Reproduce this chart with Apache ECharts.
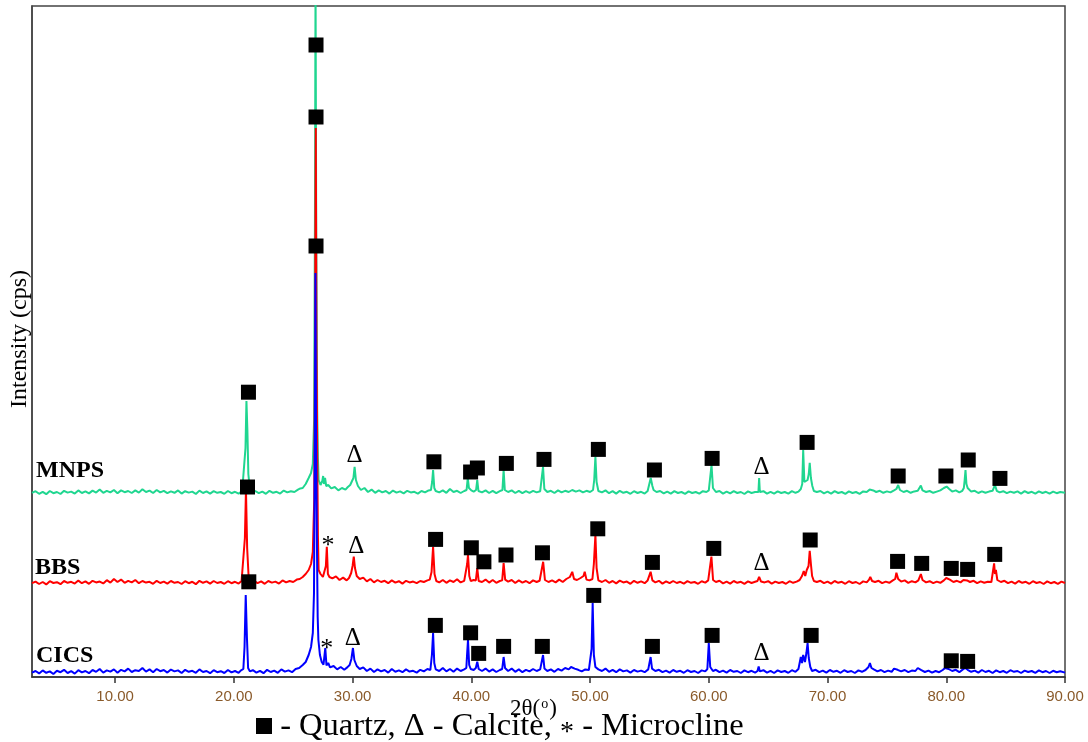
<!DOCTYPE html>
<html>
<head>
<meta charset="utf-8">
<script src="https://cdn.jsdelivr.net/npm/echarts@6/dist/echarts.min.js"></script>
<style>html,body{margin:0;padding:0;background:#fff;}#c{width:1088px;height:742px;}</style>
</head>
<body>
<div id="c"></div>
<script>
// 2θ tick labels
const thetaTicks = [10, 20, 30, 40, 50, 60, 70, 80, 90];
const seriesNames = ['MNPS', 'BBS', 'CICS'];
const seriesOffsets = [895, 445, 0];   // vertical stacking offset (cps)

// raw intensities [2θ, cps]
const cics = [[3,22],[3.3,30],[3.6,18],[3.9,33],[4.2,21],[4.5,28],[4.8,15],[5.1,31],[5.4,24],[5.7,36],[6.0,20],[6.3,29],[6.6,17],[6.9,34],[7.2,23],[7.5,30],[7.8,19],[8.1,35],[8.4,26],[8.7,40],[9.0,22],[9.3,33],[9.6,27],[9.9,38],[10.2,21],[10.5,36],[10.8,28],[11.1,42],[11.4,25],[11.7,34],[12.0,30],[12.3,45],[12.6,27],[12.9,38],[13.2,24],[13.5,40],[13.8,29],[14.1,35],[14.4,22],[14.7,37],[15.0,28],[15.3,33],[15.6,20],[15.9,36],[16.2,26],[16.5,31],[16.8,21],[17.1,38],[17.4,25],[17.7,30],[18.0,19],[18.3,34],[18.6,24],[18.9,29],[19.2,20],[19.5,35],[19.8,23],[20.1,30],[20.4,21],[20.6,33],
[20.8,40],[20.9,150],[21.0,410],[21.1,200],[21.2,45],[21.35,28],
[21.6,34],[21.9,22],[22.2,31],[22.5,19],[22.8,36],[23.1,25],[23.4,32],[23.7,21],[24.0,38],[24.3,27],[24.6,33],[24.9,24],[25.2,40],[25.5,45],
[25.8,60],[26.05,75],[26.3,110],[26.5,150],[26.65,220],[26.75,420],[26.82,1200],[26.87,2020],[26.93,1100],[27.0,645],[27.06,300],[27.12,185],[27.25,110],[27.4,75],[27.55,62],[27.7,145],[27.8,58],[27.95,70],[28.1,48],[28.4,55],[28.7,38],[29.0,50],[29.3,36],[29.55,48],[29.75,60],[29.9,90],[30.03,145],[30.15,85],[30.35,55],[30.6,40],[30.9,48],[31.2,30],[31.5,42],[31.8,25],[32.1,38],[32.4,28],[32.7,35],[33.0,22],[33.3,40],[33.6,26],[33.9,33],[34.2,24],[34.5,38],[34.8,27],[35.1,31],[35.4,22],[35.7,36],[36.0,28],[36.3,40],[36.55,35],[36.68,110],[36.78,220],[36.88,70],[37.0,38],[37.3,30],[37.6,45],[37.9,28],[38.2,40],[38.5,26],[38.8,42],[39.1,30],[39.4,38],[39.58,45],[39.65,120],[39.72,185],[39.82,60],[39.95,40],[40.2,35],[40.38,45],[40.5,77],[40.62,40],[40.9,30],[41.2,42],[41.5,27],[41.8,38],[42.1,25],[42.4,35],[42.6,40],[42.72,100],[42.84,45],[43.1,30],[43.4,42],[43.7,26],[44.0,38],[44.3,24],[44.6,36],[44.9,28],[45.2,40],[45.5,30],[45.8,38],[45.92,45],[46.04,110],[46.16,42],[46.4,30],[46.7,38],[47.0,26],[47.3,40],[47.6,32],[47.9,45],[48.2,38],[48.4,50],[48.55,60],[48.7,42],[49.0,36],[49.3,28],[49.6,38],[49.9,35],[50.05,45],[50.13,140],[50.22,370],[50.32,110],[50.45,50],[50.7,38],[51.0,30],[51.3,42],[51.6,26],[51.9,36],[52.2,24],[52.5,38],[52.8,28],[53.1,33],[53.4,22],[53.7,35],[54.0,27],[54.3,32],[54.6,24],[54.9,38],[55.0,45],[55.1,100],[55.22,42],[55.5,30],[55.8,36],[56.1,24],[56.4,32],[56.7,22],[57.0,35],[57.3,26],[57.6,31],[57.9,21],[58.2,34],[58.5,25],[58.8,30],[59.1,20],[59.4,33],[59.7,28],[59.88,40],[60.0,170],[60.12,50],[60.35,30],[60.6,36],[60.9,24],[61.2,32],[61.5,22],[61.8,35],[62.1,26],[62.4,30],[62.7,20],[63.0,33],[63.3,24],[63.6,31],[63.9,22],[64.1,30],[64.2,52],[64.3,28],[64.6,34],[64.9,22],[65.2,31],[65.5,20],[65.8,33],[66.1,25],[66.4,30],[66.7,21],[67.0,34],[67.3,26],[67.55,40],[67.75,100],[67.85,70],[67.95,110],[68.1,75],[68.22,120],[68.32,170],[68.42,95],[68.55,50],[68.7,30],[69.0,36],[69.3,24],[69.6,32],[69.9,22],[70.2,35],[70.5,26],[70.8,31],[71.1,21],[71.4,34],[71.7,25],[72.0,30],[72.3,20],[72.6,33],[72.9,26],[73.2,35],[73.45,50],[73.57,70],[73.7,45],[73.9,38],[74.2,28],[74.5,35],[74.8,24],[75.1,32],[75.4,26],[75.6,42],[75.75,50],[75.9,36],[76.2,28],[76.5,35],[76.8,24],[77.1,32],[77.4,30],[77.6,45],[77.75,50],[77.9,34],[78.2,25],[78.5,32],[78.8,22],[79.1,30],[79.4,24],[79.7,35],[79.9,45],[80.05,50],[80.2,40],[80.5,30],[80.8,36],[81.1,24],[81.4,38],[81.6,45],[81.8,36],[82.1,26],[82.4,32],[82.7,22],[83.0,35],[83.3,25],[83.6,31],[83.9,20],[84.2,33],[84.5,24],[84.8,30],[85.1,21],[85.4,34],[85.7,26],[86.0,30],[86.3,20],[86.6,32],[86.9,25],[87.2,30],[87.5,21],[87.8,33],[88.1,24],[88.4,30],[88.7,20],[89.0,31],[89.3,24],[89.6,29],[90,22]];

const bbs = [[3,24],[3.3,32],[3.6,20],[3.9,30],[4.2,18],[4.5,34],[4.8,25],[5.1,29],[5.4,19],[5.7,35],[6.0,26],[6.3,31],[6.6,22],[6.9,37],[7.2,24],[7.5,33],[7.8,21],[8.1,36],[8.4,28],[8.7,32],[9.0,23],[9.3,39],[9.6,27],[9.9,45],[10.2,30],[10.5,42],[10.8,26],[11.1,36],[11.4,28],[11.7,40],[12.0,24],[12.3,35],[12.6,27],[12.9,31],[13.2,21],[13.5,36],[13.8,25],[14.1,32],[14.4,22],[14.7,35],[15.0,26],[15.3,30],[15.6,20],[15.9,34],[16.2,24],[16.5,31],[16.8,19],[17.1,36],[17.4,26],[17.7,33],[18.0,22],[18.3,35],[18.6,25],[18.9,30],[19.2,21],[19.5,34],[19.8,24],[20.1,31],[20.4,22],[20.65,35],
[20.8,45],[20.93,250],[21.02,490],[21.12,200],[21.25,50],[21.4,30],
[21.7,36],[22.0,24],[22.3,33],[22.6,21],[22.9,35],[23.2,27],[23.5,32],[23.8,22],[24.1,38],[24.4,28],[24.7,35],[25.0,30],[25.3,42],[25.55,45],
[25.8,55],[26.05,70],[26.3,90],[26.5,120],[26.65,180],[26.77,440],[26.84,1300],[26.9,2300],[26.96,1200],[27.02,680],[27.08,260],[27.14,90],[27.3,70],[27.5,55],[27.65,65],[27.75,110],[27.83,206],[27.92,70],[28.05,55],[28.3,48],[28.6,58],[28.9,40],[29.2,52],[29.5,38],[29.7,50],[29.88,75],[30.0,110],[30.1,157],[30.2,100],[30.35,60],[30.6,45],[30.9,52],[31.2,33],[31.5,45],[31.8,28],[32.1,40],[32.4,30],[32.7,36],[33.0,24],[33.3,38],[33.6,27],[33.9,34],[34.2,22],[34.5,36],[34.8,28],[35.1,32],[35.4,24],[35.7,35],[36.0,30],[36.3,38],[36.5,42],[36.65,80],[36.78,206],[36.9,70],[37.05,35],[37.3,28],[37.6,40],[37.9,26],[38.2,38],[38.5,30],[38.8,44],[39.1,28],[39.4,36],[39.55,40],[39.65,120],[39.72,165],[39.83,60],[39.95,35],[40.2,40],[40.38,38],[40.5,100],[40.62,35],[40.9,30],[41.2,42],[41.5,27],[41.8,40],[42.1,26],[42.4,35],[42.6,38],[42.72,125],[42.85,42],[43.1,32],[43.4,40],[43.7,25],[44.0,38],[44.3,27],[44.6,35],[44.9,24],[45.2,38],[45.5,30],[45.75,36],[45.9,40],[46.05,131],[46.2,40],[46.5,30],[46.8,38],[47.1,28],[47.4,42],[47.7,30],[48.0,45],[48.3,55],[48.5,81],[48.65,45],[48.9,40],[49.2,50],[49.45,60],[49.55,81],[49.7,42],[49.95,38],[50.2,45],[50.32,120],[50.45,265],[50.55,100],[50.7,38],[51.0,30],[51.3,40],[51.6,26],[51.9,35],[52.2,23],[52.5,37],[52.8,28],[53.1,32],[53.4,21],[53.7,36],[54.0,26],[54.3,33],[54.6,24],[54.85,38],[54.98,40],[55.1,81],[55.25,38],[55.5,28],[55.8,36],[56.1,22],[56.4,33],[56.7,24],[57.0,35],[57.3,25],[57.6,31],[57.9,22],[58.2,34],[58.5,26],[58.8,30],[59.1,21],[59.4,34],[59.7,27],[59.95,38],[60.08,45],[60.22,157],[60.36,40],[60.6,30],[60.9,36],[61.2,23],[61.5,32],[61.8,22],[62.1,35],[62.4,26],[62.7,31],[63.0,21],[63.3,33],[63.6,25],[63.9,31],[64.1,35],[64.24,56],[64.4,32],[64.7,28],[65.0,34],[65.3,22],[65.6,32],[65.9,25],[66.2,30],[66.5,21],[66.8,34],[67.1,26],[67.4,32],[67.65,40],[67.85,60],[68.0,85],[68.12,60],[68.25,90],[68.4,110],[68.5,186],[68.6,120],[68.7,60],[68.85,35],[69.1,30],[69.4,36],[69.7,24],[70.0,32],[70.3,22],[70.6,35],[70.9,26],[71.2,31],[71.5,21],[71.8,34],[72.1,25],[72.4,30],[72.7,20],[73.0,33],[73.3,28],[73.5,42],[73.6,56],[73.75,35],[74.0,30],[74.3,36],[74.6,24],[74.9,32],[75.2,26],[75.5,38],[75.7,45],[75.8,76],[75.95,45],[76.2,32],[76.5,38],[76.8,26],[77.1,34],[77.4,28],[77.65,38],[77.86,70],[78.0,40],[78.3,28],[78.6,34],[78.9,24],[79.2,32],[79.5,26],[79.8,38],[80.0,50],[80.1,56],[80.3,42],[80.6,30],[80.9,36],[81.2,28],[81.45,40],[81.6,48],[81.75,38],[82.0,30],[82.3,36],[82.6,24],[82.9,33],[83.2,26],[83.5,31],[83.8,30],[83.95,40],[84.03,123],[84.1,70],[84.18,90],[84.3,40],[84.6,30],[84.9,36],[85.2,24],[85.5,32],[85.8,22],[86.1,35],[86.4,26],[86.7,31],[87.0,21],[87.3,34],[87.6,25],[87.9,30],[88.2,20],[88.5,33],[88.8,24],[89.1,30],[89.4,21],[89.7,32],[90,25]];

const mnps = [[3,26],[3.3,34],[3.6,21],[3.9,31],[4.2,19],[4.5,35],[4.8,24],[5.1,30],[5.4,20],[5.7,36],[6.0,27],[6.3,32],[6.6,22],[6.9,38],[7.2,25],[7.5,33],[7.8,23],[8.1,37],[8.4,27],[8.7,42],[9.0,26],[9.3,36],[9.6,28],[9.9,40],[10.2,24],[10.5,38],[10.8,29],[11.1,35],[11.4,25],[11.7,38],[12.0,27],[12.3,44],[12.6,30],[12.9,37],[13.2,25],[13.5,40],[13.8,28],[14.1,36],[14.4,24],[14.7,33],[15.0,26],[15.3,38],[15.6,22],[15.9,34],[16.2,27],[16.5,32],[16.8,20],[17.1,37],[17.4,25],[17.7,33],[18.0,22],[18.3,34],[18.6,26],[18.9,30],[19.2,21],[19.5,35],[19.8,24],[20.1,31],[20.4,22],[20.7,34],
[20.85,40],[20.98,250],[21.06,485],[21.14,340],[21.22,120],[21.35,45],[21.5,30],
[21.8,35],[22.1,24],[22.4,32],[22.7,21],[23.0,36],[23.3,26],[23.6,31],[23.9,22],[24.2,37],[24.5,28],[24.8,34],[25.1,30],[25.4,42],[25.6,48],
[25.8,50],[26.05,70],[26.3,100],[26.5,125],[26.65,170],[26.76,390],[26.83,1400],[26.88,2600],[26.94,1300],[27.02,440],[27.08,200],[27.14,90],[27.3,65],[27.45,85],[27.52,110],[27.6,70],[27.68,100],[27.78,60],[27.95,65],[28.2,48],[28.5,55],[28.8,38],[29.1,50],[29.4,42],[29.6,55],[29.8,65],[29.95,75],[30.07,100],[30.17,156],[30.28,90],[30.45,60],[30.7,40],[31.0,50],[31.3,30],[31.6,42],[31.9,26],[32.2,38],[32.5,28],[32.8,35],[33.1,22],[33.4,37],[33.7,27],[34.0,33],[34.3,23],[34.6,36],[34.9,28],[35.2,31],[35.5,22],[35.8,35],[36.1,28],[36.4,38],[36.6,40],[36.7,80],[36.78,140],[36.88,50],[37.0,35],[37.3,28],[37.6,38],[37.9,26],[38.2,45],[38.5,30],[38.8,36],[39.1,25],[39.4,35],[39.6,40],[39.7,100],[39.8,50],[40.0,38],[40.2,32],[40.4,40],[40.5,90],[40.6,35],[40.9,28],[41.2,38],[41.5,25],[41.8,36],[42.1,24],[42.4,34],[42.62,40],[42.72,140],[42.82,40],[43.1,30],[43.4,38],[43.7,25],[44.0,36],[44.3,24],[44.6,34],[44.9,26],[45.2,36],[45.5,28],[45.8,34],[45.92,40],[46.04,156],[46.15,45],[46.4,30],[46.7,36],[47.0,25],[47.3,38],[47.6,28],[47.9,36],[48.2,30],[48.5,40],[48.8,32],[49.1,38],[49.4,28],[49.7,36],[50.0,30],[50.25,40],[50.35,90],[50.45,206],[50.55,80],[50.7,35],[51.0,28],[51.3,38],[51.6,24],[51.9,34],[52.2,22],[52.5,36],[52.8,26],[53.1,31],[53.4,21],[53.7,34],[54.0,25],[54.3,31],[54.6,22],[54.85,35],[55.0,40],[55.11,100],[55.25,60],[55.35,40],[55.6,30],[55.9,35],[56.2,23],[56.5,32],[56.8,22],[57.1,34],[57.4,25],[57.7,30],[58.0,21],[58.3,33],[58.6,25],[58.9,30],[59.2,22],[59.5,34],[59.8,30],[60.0,38],[60.1,45],[60.23,165],[60.35,50],[60.6,30],[60.9,35],[61.2,22],[61.5,32],[61.8,23],[62.1,34],[62.4,25],[62.7,30],[63.0,20],[63.3,33],[63.6,25],[63.9,30],[64.18,30],[64.24,100],[64.3,30],[64.6,34],[64.9,22],[65.2,31],[65.5,22],[65.8,33],[66.1,25],[66.4,30],[66.7,22],[67.0,34],[67.3,26],[67.55,32],[67.75,45],[67.87,70],[67.95,240],[68.05,80],[68.2,70],[68.32,90],[68.42,120],[68.5,176],[68.6,100],[68.72,60],[68.85,35],[69.1,30],[69.4,35],[69.7,23],[70.0,32],[70.3,22],[70.6,34],[70.9,25],[71.2,30],[71.5,21],[71.8,33],[72.1,25],[72.4,30],[72.7,21],[73.0,33],[73.3,30],[73.55,42],[73.7,50],[73.85,38],[74.1,30],[74.4,36],[74.7,26],[75.0,33],[75.3,28],[75.6,38],[75.8,45],[75.95,65],[76.1,40],[76.4,30],[76.7,36],[77.0,26],[77.3,33],[77.6,36],[77.86,62],[78.0,38],[78.3,30],[78.6,35],[78.9,26],[79.2,32],[79.5,38],[79.8,50],[80.03,57],[80.25,45],[80.5,32],[80.8,38],[81.1,28],[81.35,36],[81.48,50],[81.55,90],[81.62,140],[81.7,70],[81.8,50],[81.95,60],[82.1,32],[82.4,36],[82.7,25],[83.0,33],[83.3,26],[83.6,32],[83.9,36],[84.1,65],[84.25,36],[84.5,28],[84.8,34],[85.1,24],[85.4,32],[85.7,26],[86.0,33],[86.3,22],[86.6,34],[86.9,25],[87.2,31],[87.5,22],[87.8,33],[88.1,25],[88.4,31],[88.7,22],[89.0,32],[89.3,24],[89.6,30],[90,26]];

// phase annotation positions [2θ, plotted cps]
const quartzMarks = [
  [21.23,1424],[26.92,3160],[36.85,1076],[39.94,1025],[40.51,1045],[42.95,1068],[46.12,1088],[50.70,1138],[55.42,1035],[60.28,1093],[68.28,1173],[75.95,1005],[79.97,1005],[81.85,1085],[84.52,993],
  [21.15,950],[26.92,2800],[36.99,688],[40.0,646],[41.06,576],[42.92,610],[45.99,621],[50.65,741],[55.25,573],[60.42,643],[68.54,685],[75.9,578],[77.93,568],[80.42,543],[81.8,538],[84.08,613],
  [21.26,476],[26.92,2155],[36.97,258],[39.94,221],[40.62,118],[42.72,153],[45.98,153],[50.31,408],[55.25,153],[60.28,208],[68.62,208],[80.42,81],[81.8,78]
];
const calciteMarks = [[30.17,1110],[64.44,1046],[30.31,651],[64.44,568],[30.02,193],[64.44,118]];
const microclineMarks = [[27.92,690],[27.83,176]];

const colors = ['#20d690', '#ff0000', '#0000ff'];
const raw = [mnps, bbs, cics];
const serif = 'Liberation Serif';

const chart = echarts.init(document.getElementById('c'), null, {renderer: 'canvas'});

const lineSeries = raw.map((arr, i) => ({
  name: seriesNames[i],
  type: 'line',
  data: arr.map(p => [p[0], p[1] + seriesOffsets[i]]),
  showSymbol: false,
  symbol: 'none',
  lineStyle: {color: colors[i], width: 2},
  clip: true,
  z: 2 + i
}));

const option = {
  animation: false,
  backgroundColor: '#fff',
  grid: {left: 32, right: 23, top: 6, bottom: 65, show: true, borderColor: '#444', borderWidth: 1.5, containLabel: false, outerBoundsMode: 'none'},
  xAxis: {
    type: 'value', min: 3, max: 90,
    axisLine: {show: true, onZero: false, lineStyle: {color: '#333', width: 1.5}},
    axisTick: {show: true, customValues: thetaTicks, length: 6, lineStyle: {color: '#333', width: 1.5}},
    axisLabel: {customValues: thetaTicks, formatter: v => v.toFixed(2), color: '#8a5a2a', fontFamily: 'Liberation Sans', fontSize: 15, margin: 12},
    splitLine: {show: false}
  },
  yAxis: {
    type: 'value', min: 0, max: 3355,
    axisLine: {show: true, lineStyle: {color: '#444', width: 1.5}},
    axisTick: {show: false}, axisLabel: {show: false}, splitLine: {show: false}
  },
  series: lineSeries.concat([
    {type: 'scatter', data: quartzMarks, symbol: 'rect', symbolSize: 15, itemStyle: {color: '#000', opacity: 1}, z: 10, clip: false},
    {type: 'scatter', data: calciteMarks, symbol: 'rect', symbolSize: 1, itemStyle: {color: 'rgba(0,0,0,0)', opacity: 1}, z: 10,
      label: {show: true, position: 'inside', formatter: '\u0394', color: '#000', fontFamily: serif, fontSize: 25}},
    {type: 'scatter', data: microclineMarks, symbol: 'rect', symbolSize: 1, itemStyle: {color: 'rgba(0,0,0,0)', opacity: 1}, z: 10,
      label: {show: true, position: 'inside', formatter: '*', color: '#000', fontFamily: serif, fontSize: 26, offset: [0, 7]}}
  ]),
  graphic: [
    {type: 'text', left: 36, top: 459, style: {text: 'MNPS', font: 'bold 24px "Liberation Serif"', fill: '#000'}, z: 20},
    {type: 'text', left: 35, top: 556, style: {text: 'BBS', font: 'bold 24px "Liberation Serif"', fill: '#000'}, z: 20},
    {type: 'text', left: 36, top: 644, style: {text: 'CICS', font: 'bold 24px "Liberation Serif"', fill: '#000'}, z: 20},
    {type: 'text', x: 20, y: 339, rotation: Math.PI / 2, style: {text: 'Intensity (cps)', font: '24px "Liberation Serif"', fill: '#000', align: 'center', verticalAlign: 'middle'}, z: 20},
    {type: 'text', x: 510, y: 709, style: {
      text: '{a|2\u03b8(}{b|o}{a|)}', align: 'left', verticalAlign: 'middle',
      rich: {a: {font: '23px "Liberation Serif"', fill: '#000', lineHeight: 24},
             b: {font: '14px "Liberation Serif"', fill: '#000', verticalAlign: 'top', lineHeight: 24, padding: [0, 1, 10, 1]}}
    }, z: 20},
    {type: 'text', x: 256, y: 726, style: {
      text: '{sq|}{t| - Quartz, \u0394 - Calcite, }{ast|*}{t| - Microcline}', align: 'left', verticalAlign: 'middle',
      rich: {sq: {width: 16, height: 16, backgroundColor: '#000'},
             t: {font: '32.5px "Liberation Serif"', fill: '#000'},
             ast: {font: '28px "Liberation Serif"', fill: '#000', padding: [14, 0, 0, 0]}}
    }, z: 20}
  ]
};
chart.setOption(option);
</script>
</body>
</html>
